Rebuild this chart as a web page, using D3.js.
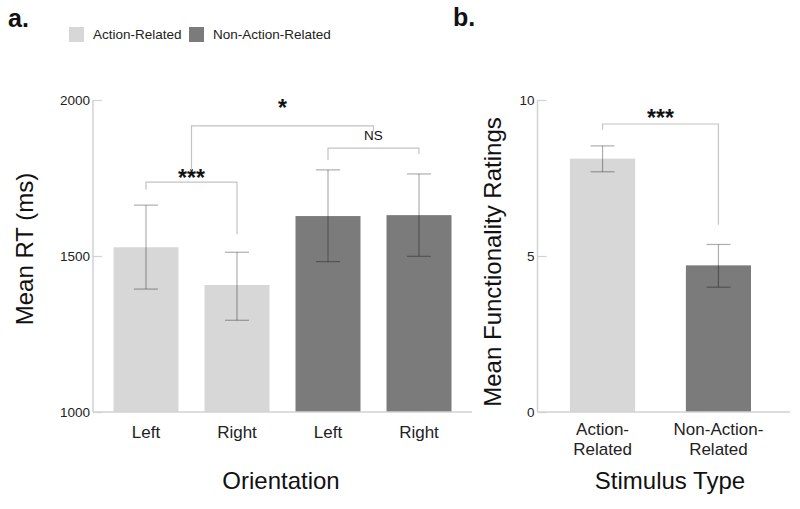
<!DOCTYPE html>
<html>
<head>
<meta charset="utf-8">
<script src="https://cdn.jsdelivr.net/npm/d3@7"></script>
<style>
  body { margin: 0; background: #fff; }
  svg { display: block; font-family: "Liberation Sans", Arial, sans-serif; }
</style>
</head>
<body>
<svg id="chart" width="800" height="509"></svg>
<script>
// ---------- DATA ----------
const seriesNames = ["Action-Related", "Non-Action-Related"];
const seriesColors = ["#d7d7d7", "#7b7b7b"];

// Panel a: Mean RT by orientation
const rtCategories = ["Left", "Right", "Left", "Right"];
const rtSeries = [0, 0, 1, 1];
const rtMeans = [1528, 1407, 1628, 1631];
const rtErrLow = [1394, 1294, 1482, 1499];
const rtErrHigh = [1663, 1512, 1776, 1763];
const rtTicks = [1000, 1500, 2000];

// Panel b: Functionality ratings by stimulus type
const ftCategories = [["Action-", "Related"], ["Non-Action-", "Related"]];
const ftSeries = [0, 1];
const ftMeans = [8.12, 4.70];
const ftErrLow = [7.70, 4.00];
const ftErrHigh = [8.53, 5.37];
const ftTicks = [0, 5, 10];

// ---------- DRAW ----------
const svg = d3.select("#chart");
const axisColor = "#d2d2d2";
const bracketColor = "#c4c4c4";
const errColor = "rgba(0,0,0,0.32)";

// Panel labels
svg.append("text").attr("x", 8).attr("y", 27).attr("font-size", 25).attr("font-weight", "bold").attr("fill", "#111").text("a.");
svg.append("text").attr("x", 453).attr("y", 26).attr("font-size", 25).attr("font-weight", "bold").attr("fill", "#111").text("b.");

// Legend
const legendX = [69, 189];
seriesNames.forEach((n, i) => {
  svg.append("rect").attr("x", legendX[i]).attr("y", 27).attr("width", 15).attr("height", 15).attr("fill", seriesColors[i]);
  svg.append("text").attr("x", legendX[i] + 24).attr("y", 39).attr("font-size", 13.5).attr("fill", "#222").text(n);
});

function drawPanel(opts) {
  const { axisX, baseEnd, yScale, xScale, ticks, cats, means, lo, hi, ser, yLabel, yLabelX, yLabelY, xLabel, xLabelX } = opts;
  const g = svg.append("g");
  // bars
  g.selectAll("rect.bar").data(means).join("rect")
    .attr("class", "bar")
    .attr("x", (d, i) => xScale(i))
    .attr("width", xScale.bandwidth())
    .attr("y", d => yScale(d))
    .attr("height", d => yScale.range()[0] - yScale(d))
    .attr("fill", (d, i) => seriesColors[ser[i]]);
  // y axis line
  g.append("line").attr("x1", axisX).attr("x2", axisX)
    .attr("y1", yScale.range()[1]).attr("y2", yScale.range()[0])
    .attr("stroke", axisColor).attr("stroke-width", 1.5);
  // baseline
  g.append("line").attr("x1", axisX).attr("x2", baseEnd)
    .attr("y1", yScale.range()[0]).attr("y2", yScale.range()[0])
    .attr("stroke", axisColor).attr("stroke-width", 1.5);
  // ticks
  const yAxis = d3.axisLeft(yScale).tickValues(ticks).tickFormat(d3.format("d")).tickSize(-9).tickPadding(3);
  const ag = g.append("g").attr("transform", `translate(${axisX},0)`).call(yAxis);
  ag.select(".domain").remove();
  ag.selectAll(".tick line").attr("stroke", axisColor).attr("stroke-width", 1.2);
  ag.selectAll(".tick text").attr("font-size", 13.5).attr("fill", "#222")
    .attr("font-family", "'Liberation Sans', Arial, sans-serif");
  // error bars
  const cx = i => xScale(i) + xScale.bandwidth() / 2;
  const eb = g.selectAll("g.err").data(means).join("g").attr("class", "err");
  eb.append("line").attr("x1", (d, i) => cx(i)).attr("x2", (d, i) => cx(i))
    .attr("y1", (d, i) => yScale(hi[i])).attr("y2", (d, i) => yScale(lo[i]))
    .attr("stroke", errColor).attr("stroke-width", 1.2);
  [hi, lo].forEach(arr => {
    eb.append("line").attr("x1", (d, i) => cx(i) - 12).attr("x2", (d, i) => cx(i) + 12)
      .attr("y1", (d, i) => yScale(arr[i])).attr("y2", (d, i) => yScale(arr[i]))
      .attr("stroke", errColor).attr("stroke-width", 1.2);
  });
  // x labels
  cats.forEach((c, i) => {
    const lines = Array.isArray(c) ? c : [c];
    const t = g.append("text").attr("x", cx(i)).attr("text-anchor", "middle").attr("font-size", 17).attr("fill", "#222");
    lines.forEach((ln, k) => {
      t.append("tspan").attr("x", cx(i)).attr("y", (lines.length > 1 ? 435 : 438) + k * 20).text(ln);
    });
  });
  // axis titles
  g.append("text").attr("x", xLabelX).attr("y", 489).attr("text-anchor", "middle").attr("font-size", 24).attr("fill", "#111").text(xLabel);
  g.append("text").attr("transform", `translate(${yLabelX},${yLabelY}) rotate(-90)`)
    .attr("text-anchor", "middle").attr("font-size", 24).attr("fill", "#111").text(yLabel);
  return { g, cx };
}

function bracket(x1, x2, yTop, y1End, y2End, label, labelY, fontSize, bold) {
  const p = d3.path();
  p.moveTo(x1, y1End); p.lineTo(x1, yTop); p.lineTo(x2, yTop); p.lineTo(x2, y2End);
  svg.append("path").attr("d", p.toString()).attr("fill", "none").attr("stroke", bracketColor).attr("stroke-width", 1.2);
  svg.append("text").attr("x", (x1 + x2) / 2).attr("y", labelY).attr("text-anchor", "middle")
    .attr("font-size", fontSize).attr("font-weight", bold ? "bold" : "normal").attr("fill", "#111").text(label);
}

// Panel a
const yA = d3.scaleLinear().domain([1000, 2000]).range([412, 100]);
const xA = d3.scaleBand().domain(d3.range(rtMeans.length)).range([113.5, 451.5]).paddingInner(26 / 91).paddingOuter(0);
const pa = drawPanel({ axisX: 93, baseEnd: 472, yScale: yA, xScale: xA, ticks: rtTicks, cats: rtCategories,
  means: rtMeans, lo: rtErrLow, hi: rtErrHigh, ser: rtSeries, yLabel: "Mean RT (ms)", yLabelX: 33, yLabelY: 249,
  xLabel: "Orientation", xLabelX: 281 });

// brackets panel a
const aMid01 = (pa.cx(0) + pa.cx(1)) / 2;
const aMid23 = (pa.cx(2) + pa.cx(3)) / 2;
bracket(pa.cx(0), pa.cx(1), yA(1737), yA(1712), yA(1570), "***", 186, 23, true);
bracket(pa.cx(2), pa.cx(3), yA(1846), yA(1808), yA(1827), "NS", 140, 13.5, false);
bracket(aMid01, aMid23, yA(1917), yA(1775), yA(1900), "*", 116, 23, true);

// Panel b
const yB = d3.scaleLinear().domain([0, 10]).range([412, 100]);
const xB = d3.scaleBand().domain(d3.range(ftMeans.length)).range([570, 751]).paddingInner(0.438).paddingOuter(0);
const pb = drawPanel({ axisX: 537.5, baseEnd: 790, yScale: yB, xScale: xB, ticks: ftTicks, cats: ftCategories,
  means: ftMeans, lo: ftErrLow, hi: ftErrHigh, ser: ftSeries, yLabel: "Mean Functionality Ratings", yLabelX: 501, yLabelY: 262,
  xLabel: "Stimulus Type", xLabelX: 670 });

bracket(pb.cx(0), pb.cx(1), yB(9.23), yB(9.05), yB(6.0), "***", 126, 23, true);
</script>
</body>
</html>
